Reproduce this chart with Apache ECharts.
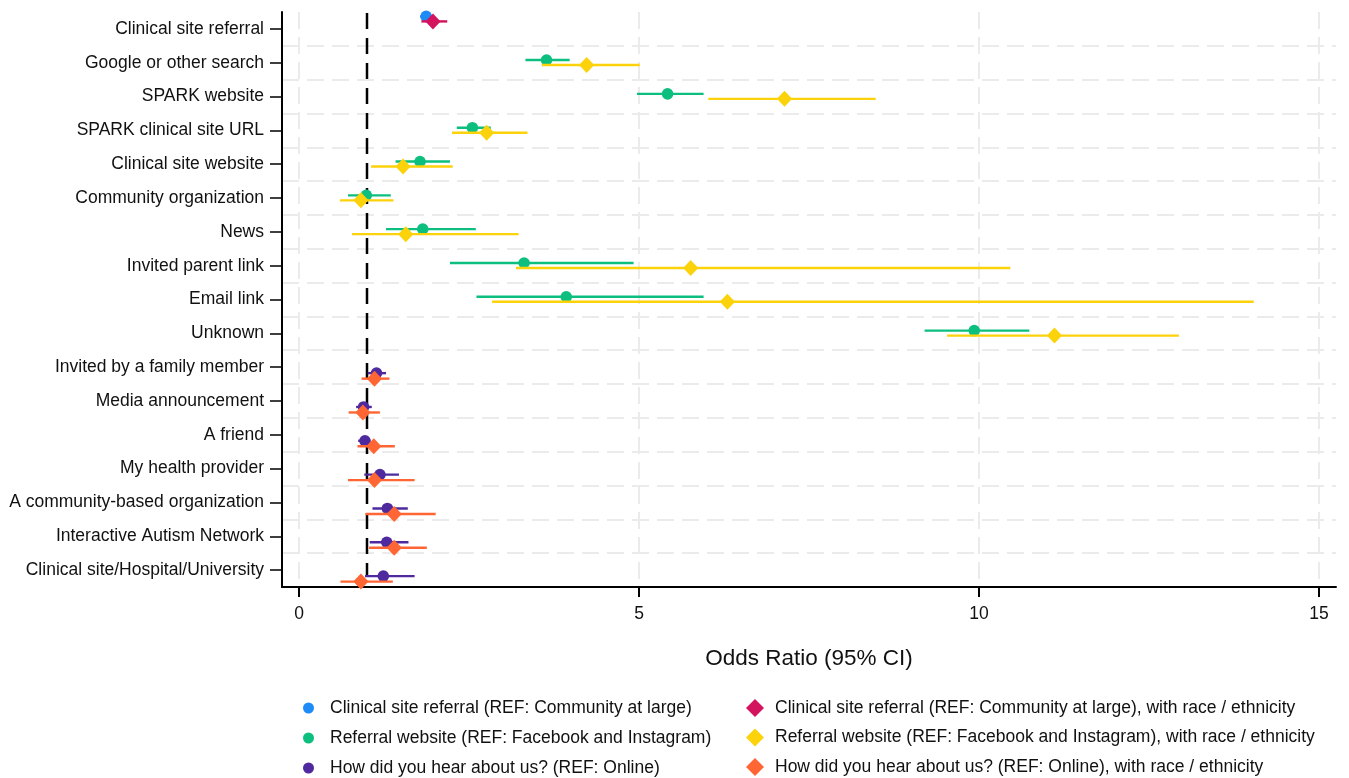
<!DOCTYPE html>
<html>
<head>
<meta charset="utf-8">
<title>Odds ratios by recruitment source</title>
<script src="https://cdn.jsdelivr.net/npm/echarts@6/dist/echarts.min.js"></script>
<style>
  html, body { margin: 0; padding: 0; background: #fff; }
  #chart { width: 1349px; height: 778px; }
</style>
</head>
<body>
<div id="chart"></div>
<script>
// categories, top to bottom
var categories = [
    'Clinical site referral', 'Google or other search', 'SPARK website', 'SPARK clinical site URL',
    'Clinical site website', 'Community organization', 'News', 'Invited parent link', 'Email link',
    'Unknown', 'Invited by a family member', 'Media announcement', 'A friend', 'My health provider',
    'A community-based organization', 'Interactive Autism Network', 'Clinical site/Hospital/University'
];
var xTicks = [0, 5, 10, 15];

// Clinical site referral (REF: Community at large)
var clinRows = ['Clinical site referral'];
var clinEst = [1.87], clinLo = [1.78], clinHi = [1.96];
var clinRaceEst = [1.97], clinRaceLo = [1.80], clinRaceHi = [2.18];

// Referral website (REF: Facebook and Instagram)
var refRows = ['Google or other search', 'SPARK website', 'SPARK clinical site URL', 'Clinical site website',
    'Community organization', 'News', 'Invited parent link', 'Email link', 'Unknown'];
var refEst = [3.64, 5.42, 2.55, 1.78, 0.99, 1.82, 3.31, 3.93, 9.93];
var refLo  = [3.33, 4.97, 2.32, 1.42, 0.72, 1.28, 2.22, 2.61, 9.20];
var refHi  = [3.98, 5.95, 2.82, 2.22, 1.35, 2.60, 4.92, 5.95, 10.74];
var refRaceEst = [4.23, 7.14, 2.76, 1.53, 0.91, 1.57, 5.76, 6.30, 11.11];
var refRaceLo  = [3.57, 6.02, 2.25, 1.06, 0.60, 0.78, 3.19, 2.84, 9.53];
var refRaceHi  = [5.01, 8.48, 3.36, 2.26, 1.39, 3.23, 10.46, 14.04, 12.94];

// How did you hear about us? (REF: Online)
var hearRows = ['Invited by a family member', 'Media announcement', 'A friend', 'My health provider',
    'A community-based organization', 'Interactive Autism Network', 'Clinical site/Hospital/University'];
var hearEst = [1.14, 0.95, 0.97, 1.19, 1.30, 1.29, 1.24];
var hearLo  = [1.01, 0.84, 0.87, 0.96, 1.08, 1.04, 0.97];
var hearHi  = [1.28, 1.07, 1.05, 1.47, 1.60, 1.61, 1.70];
var hearRaceEst = [1.11, 0.94, 1.10, 1.11, 1.40, 1.40, 0.91];
var hearRaceLo  = [0.92, 0.73, 0.86, 0.72, 0.98, 1.03, 0.61];
var hearRaceHi  = [1.33, 1.19, 1.41, 1.70, 2.01, 1.88, 1.38];

var refLine = [1];

var FONT = 'Liberation Sans, Arial, Helvetica, sans-serif';

// rows -> [categoryIndex, est, lo, hi]
function toData(rows, est, lo, hi) {
    var out = [];
    for (var i = 0; i < rows.length; i++) {
        out.push([categories.indexOf(rows[i]), est[i], lo[i], hi[i]]);
    }
    return out;
}

// draws CI line + marker, shifted vertically inside the row
function ciRender(offset, shape, size) {
    return function(params, api) {
        var row = api.value(0);
        var c = api.coord([api.value(1), row]);
        var l = api.coord([api.value(2), row]);
        var h = api.coord([api.value(3), row]);
        var cy = c[1] + offset;
        var color = api.visual('color');
        var kids = [{
            type: 'line',
            shape: { x1: l[0], y1: cy, x2: h[0], y2: cy },
            style: { stroke: color, lineWidth: 2.4 }
        }];
        if (shape == 'circle') {
            kids.push({ type: 'circle', shape: { cx: c[0], cy: cy, r: size }, style: { fill: color } });
        } else {
            kids.push({
                type: 'polygon',
                shape: { points: [[c[0], cy - size], [c[0] + size * 0.95, cy], [c[0], cy + size], [c[0] - size * 0.95, cy]] },
                style: { fill: color }
            });
        }
        return { type: 'group', children: kids };
    };
}

function ciSeries(name, color, rows, est, lo, hi, offset, shape, size) {
    return {
        type: 'custom',
        name: name,
        itemStyle: { color: color },
        encode: { x: [1, 2, 3], y: 0 },
        data: toData(rows, est, lo, hi),
        renderItem: ciRender(offset, shape, size),
        z: 3
    };
}

var names = [
    'Clinical site referral (REF: Community at large)',
    'Referral website (REF: Facebook and Instagram)',
    'How did you hear about us? (REF: Online)',
    'Clinical site referral (REF: Community at large), with race / ethnicity',
    'Referral website (REF: Facebook and Instagram), with race / ethnicity',
    'How did you hear about us? (REF: Online), with race / ethnicity'
];
var colors = ['#1f8bf7', '#0dbf7e', '#4e2a9e', '#d3135e', '#fcd20a', '#ff6633'];

var chart = echarts.init(document.getElementById('chart'));

var legendBase = {
    orient: 'vertical',
    height: 80,
    padding: 0,
    selectedMode: false
};

var option = {
    animation: false,
    textStyle: { fontFamily: FONT },
    grid: { left: 282, right: 13, top: 12, bottom: 191 },
    xAxis: {
        type: 'value',
        min: -0.25,
        max: 15.25,
        name: 'Odds Ratio (95% CI)',
        nameLocation: 'middle',
        nameGap: 60,
        nameTextStyle: { fontSize: 22.5, color: '#111', fontFamily: FONT },
        axisLine: { show: true, onZero: false, lineStyle: { color: '#000', width: 2 } },
        axisTick: { show: true, length: 10, customValues: xTicks, lineStyle: { color: '#000', width: 2 } },
        axisLabel: { customValues: xTicks, margin: 18, fontSize: 17.5, color: '#111', fontFamily: FONT },
        splitLine: { show: true, lineStyle: { color: '#ebebeb', width: 2, type: [17, 8] } }
    },
    yAxis: {
        type: 'category',
        data: categories,
        inverse: true,
        axisLine: { show: true, onZero: false, lineStyle: { color: '#000', width: 2 } },
        axisTick: { show: true, alignWithLabel: true, length: 12, lineStyle: { color: '#000', width: 1.5 } },
        axisLabel: { margin: 18, fontSize: 17.5, color: '#111', fontFamily: FONT },
        splitLine: { show: true, showMinLine: false, showMaxLine: false,
            lineStyle: { color: '#ebebeb', width: 2, type: [17, 8] } }
    },
    legend: [
        echarts.util.merge({
            left: 303,
            top: 699,
            itemWidth: 11,
            itemHeight: 11,
            itemGap: 12,
            textStyle: { fontSize: 17.5, color: '#111', fontFamily: FONT, padding: [0, 0, 0, 11] },
            data: [
                { name: names[0], icon: 'circle' },
                { name: names[1], icon: 'circle' },
                { name: names[2], icon: 'circle' }
            ]
        }, legendBase),
        echarts.util.merge({
            left: 746,
            top: 699,
            itemWidth: 18,
            itemHeight: 18,
            itemGap: 11.5,
            textStyle: { fontSize: 17.5, color: '#111', fontFamily: FONT, padding: [0, 0, 0, 6] },
            data: [
                { name: names[3], icon: 'diamond' },
                { name: names[4], icon: 'diamond' },
                { name: names[5], icon: 'diamond' }
            ]
        }, legendBase)
    ],
    series: [
        {
            // vertical reference line at OR = 1
            type: 'custom',
            name: 'ref',
            data: refLine.map(function(v) { return [v, 0]; }),
            encode: { x: 0, y: 1 },
            z: 1,
            renderItem: function(params, api) {
                var x = api.coord([api.value(0), 0])[0];
                var cs = params.coordSys;
                return {
                    type: 'line',
                    shape: { x1: x, y1: cs.y + 1, x2: x, y2: cs.y + cs.height - 10 },
                    style: { stroke: '#000', lineWidth: 2.5, lineDash: [16, 9] }
                };
            }
        },
        ciSeries(names[0], colors[0], clinRows, clinEst, clinLo, clinHi, -12.5, 'circle', 5.8),
        ciSeries(names[3], colors[3], clinRows, clinRaceEst, clinRaceLo, clinRaceHi, -7.5, 'diamond', 8),
        ciSeries(names[1], colors[1], refRows, refEst, refLo, refHi, -2.7, 'circle', 5.8),
        ciSeries(names[4], colors[4], refRows, refRaceEst, refRaceLo, refRaceHi, 2.3, 'diamond', 8),
        ciSeries(names[2], colors[2], hearRows, hearEst, hearLo, hearHi, 6, 'circle', 5.8),
        ciSeries(names[5], colors[5], hearRows, hearRaceEst, hearRaceLo, hearRaceHi, 11.5, 'diamond', 8)
    ]
};

chart.setOption(option);
</script>
</body>
</html>
